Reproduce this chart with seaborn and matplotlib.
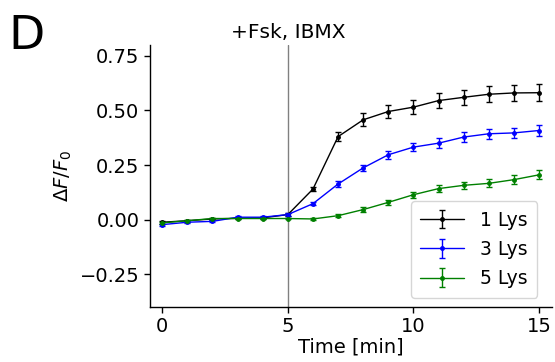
import numpy as np
import pandas as pd
import matplotlib
matplotlib.use("Agg")
import matplotlib.pyplot as plt
import seaborn as sns

# data (mean +- error)
time_min = list(range(16))
lys1 = [-0.012, -0.005, 0.003, 0.006, 0.008, 0.023, 0.140, 0.380,
        0.457, 0.495, 0.515, 0.545, 0.560, 0.574, 0.580, 0.581]
lys1_err = [0.006, 0.005, 0.005, 0.005, 0.005, 0.006, 0.010, 0.020,
            0.030, 0.030, 0.032, 0.033, 0.035, 0.037, 0.037, 0.038]
lys3 = [-0.023, -0.012, -0.008, 0.011, 0.011, 0.023, 0.073, 0.163,
        0.237, 0.297, 0.332, 0.350, 0.378, 0.393, 0.397, 0.408]
lys3_err = [0.005, 0.005, 0.005, 0.005, 0.005, 0.005, 0.008, 0.012,
            0.015, 0.018, 0.020, 0.022, 0.022, 0.024, 0.024, 0.025]
lys5 = [-0.015, -0.005, 0.005, 0.005, 0.005, 0.005, 0.003, 0.018,
        0.046, 0.079, 0.114, 0.142, 0.157, 0.166, 0.183, 0.205]
lys5_err = [0.005, 0.004, 0.004, 0.004, 0.004, 0.004, 0.005, 0.007,
            0.010, 0.012, 0.014, 0.016, 0.017, 0.018, 0.019, 0.020]

series = [("1 Lys", lys1, lys1_err, "black"),
          ("3 Lys", lys3, lys3_err, "blue"),
          ("5 Lys", lys5, lys5_err, "green")]

sns.set_style("ticks")
plt.rcParams['font.family'] = ['DejaVu Sans']
plt.rcParams['mathtext.fontset'] = 'dejavusans'
for key in ['text.color', 'axes.labelcolor', 'xtick.color', 'ytick.color']:
    plt.rcParams[key] = 'black'

fig = plt.figure(figsize=(5.55, 3.62), dpi=100)
ax = fig.add_axes([0.2697, 0.152, 0.7242, 0.724])

ax.axvline(5, color="gray", lw=1.0, zorder=1)

for name, vals, errs, col in series:
    ax.errorbar(time_min, vals, yerr=errs, color=col, marker=".",
                markersize=5, lw=1.0, elinewidth=1.0, capsize=2.5,
                label=name, zorder=3)

ax.set_xlim(-0.5, 15.5)
ax.set_ylim(-0.40, 0.80)
ax.set_xticks([0, 5, 10, 15])
ax.set_yticks([-0.25, 0.0, 0.25, 0.50, 0.75])
ax.tick_params(labelsize=14, length=4, width=1, color="black")
ax.set_xlabel("Time [min]", fontsize=14, labelpad=1)
ax.set_ylabel(r"$\Delta F/F_0$", fontsize=14, labelpad=4)
for sp in ["left", "bottom"]:
    ax.spines[sp].set_color("black")
    ax.spines[sp].set_linewidth(1.0)
sns.despine(ax=ax)

ax.text(5, 0.815, "+Fsk, IBMX", ha="center", va="bottom", fontsize=14.5)
fig.text(0.015, 0.866, "D", fontsize=34)

ax.legend(loc="lower right", bbox_to_anchor=(0.988, 0.0), fontsize=13.5,
          borderaxespad=0.5, borderpad=0.5, handlelength=2.3,
          handletextpad=0.9, labelspacing=0.55)

fig.savefig("out.png", dpi=100)
